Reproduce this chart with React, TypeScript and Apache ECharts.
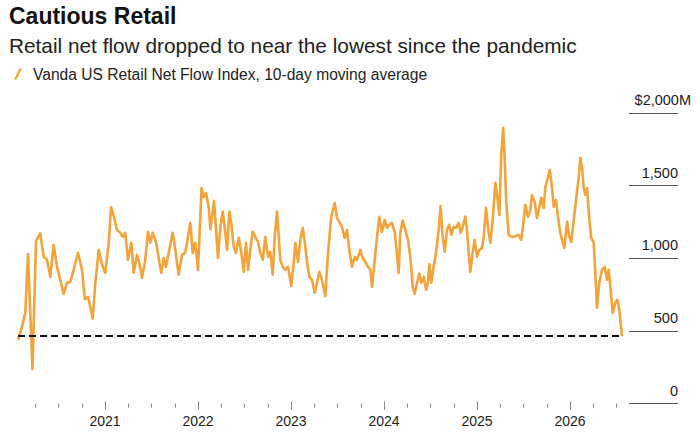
import React, { useEffect, useRef } from "react";
import * as echarts from "echarts";

const FONT = "'Liberation Sans', Arial, sans-serif";

const titleText = "Cautious Retail";
const subtitleText = "Retail net flow dropped to near the lowest since the pandemic";
const seriesName = "Vanda US Retail Net Flow Index, 10-day moving average";

// decimal years
const dates = [
  2020.065, 2020.108, 2020.143, 2020.172, 2020.22, 2020.258, 2020.304, 2020.341, 2020.376, 2020.412,
  2020.448, 2020.484, 2020.519, 2020.556, 2020.591, 2020.627, 2020.663, 2020.71, 2020.753, 2020.782,
  2020.817, 2020.842, 2020.868, 2020.896, 2020.932, 2020.968, 2021.003, 2021.04, 2021.065, 2021.094,
  2021.129, 2021.165, 2021.19, 2021.218, 2021.247, 2021.283, 2021.309, 2021.344, 2021.369, 2021.398,
  2021.433, 2021.462, 2021.487, 2021.513, 2021.548, 2021.577, 2021.605, 2021.631, 2021.656, 2021.685,
  2021.728, 2021.756, 2021.792, 2021.828, 2021.863, 2021.892, 2021.917, 2021.943, 2021.971, 2022.0,
  2022.038, 2022.061, 2022.086, 2022.115, 2022.134, 2022.172, 2022.194, 2022.215, 2022.24, 2022.266,
  2022.294, 2022.312, 2022.337, 2022.358, 2022.384, 2022.409, 2022.438, 2022.466, 2022.491, 2022.516,
  2022.538, 2022.562, 2022.588, 2022.616, 2022.645, 2022.67, 2022.696, 2022.724, 2022.753, 2022.777,
  2022.803, 2022.825, 2022.849, 2022.868, 2022.885, 2022.911, 2022.939, 2022.968, 2023.003, 2023.029,
  2023.046, 2023.075, 2023.1, 2023.126, 2023.147, 2023.172, 2023.197, 2023.226, 2023.255, 2023.28,
  2023.304, 2023.333, 2023.369, 2023.398, 2023.433, 2023.47, 2023.495, 2023.519, 2023.548, 2023.577,
  2023.602, 2023.627, 2023.656, 2023.685, 2023.71, 2023.745, 2023.771, 2023.799, 2023.828, 2023.853,
  2023.871, 2023.9, 2023.925, 2023.949, 2023.978, 2024.008, 2024.032, 2024.057, 2024.086, 2024.115,
  2024.14, 2024.158, 2024.175, 2024.201, 2024.229, 2024.258, 2024.283, 2024.309, 2024.33, 2024.355,
  2024.38, 2024.401, 2024.427, 2024.452, 2024.473, 2024.487, 2024.509, 2024.534, 2024.559, 2024.588,
  2024.608, 2024.631, 2024.653, 2024.677, 2024.702, 2024.724, 2024.749, 2024.774, 2024.803, 2024.825,
  2024.846, 2024.874, 2024.892, 2024.911, 2024.928, 2024.954, 2024.975, 2025.0, 2025.025, 2025.054,
  2025.072, 2025.097, 2025.118, 2025.143, 2025.169, 2025.197, 2025.218, 2025.24, 2025.261, 2025.282,
  2025.298, 2025.315, 2025.341, 2025.369, 2025.395, 2025.419, 2025.448, 2025.476, 2025.502, 2025.519,
  2025.548, 2025.573, 2025.591, 2025.62, 2025.645, 2025.67, 2025.691, 2025.717, 2025.735, 2025.763,
  2025.782, 2025.806, 2025.825, 2025.849, 2025.871, 2025.896, 2025.914, 2025.939, 2025.968, 2025.993,
  2026.014, 2026.04, 2026.065, 2026.094, 2026.111, 2026.129, 2026.147, 2026.165, 2026.183, 2026.208,
  2026.229, 2026.255, 2026.272, 2026.29, 2026.315, 2026.344, 2026.373, 2026.398, 2026.416, 2026.434,
  2026.459, 2026.487, 2026.509, 2026.53, 2026.559,
];

// $M
const netFlow = [
  440, 530, 625, 1030, 237, 1120, 1172, 1010, 990, 873,
  1093, 942, 852, 755, 832, 838, 921, 1038, 921, 720,
  735, 667, 585, 832, 1058, 955, 900, 1107, 1352, 1290,
  1196, 1175, 1148, 1175, 990, 1107, 900, 1024, 969, 866,
  990, 1182, 1107, 1175, 1113, 1003, 900, 1003, 942, 1038,
  1175, 1058, 887, 1024, 1038, 1148, 1244, 1038, 1107, 921,
  1484, 1423, 1450, 1354, 1200, 1395, 1196, 1003, 1216, 1322,
  1175, 1058, 1322, 1244, 1079, 1038, 1141, 1038, 907, 1107,
  921, 1058, 1182, 1148, 1113, 1038, 990, 1148, 1010, 1045,
  887, 1148, 1322, 1148, 990, 942, 921, 942, 810, 969,
  1107, 976, 1127, 1210, 1113, 976, 873, 852, 763, 832,
  907, 852, 740, 1038, 1288, 1381, 1278, 1251, 1216, 1141,
  1196, 1058, 942, 1010, 990, 1058, 1003, 976, 942, 921,
  804, 990, 1148, 1285, 1182, 1265, 1210, 1230, 1244, 1182,
  1024, 900, 1175, 1260, 1196, 1127, 1010, 804, 756, 832,
  895, 832, 873, 783, 832, 960, 832, 942, 1038, 1196,
  1360, 1148, 1045, 1196, 1230, 1162, 1216, 1210, 1244, 1175,
  1216, 1288, 1196, 1038, 907, 1045, 1127, 1010, 1058, 1072,
  1148, 1347, 1216, 1107, 1265, 1519, 1423, 1299, 1725, 1897,
  1677, 1381, 1160, 1150, 1148, 1155, 1162, 1127, 1265, 1368,
  1285, 1333, 1436, 1388, 1278, 1354, 1416, 1347, 1491, 1560,
  1608, 1491, 1354, 1402, 1285, 1175, 1127, 1072, 1251, 1148,
  1113, 1265, 1402, 1560, 1691, 1622, 1491, 1436, 1484, 1265,
  1141, 1107, 900, 660, 832, 921, 942, 852, 921, 804,
  625, 694, 715, 646, 465,
];

const referenceLevel = 465;

const yearLabels = ["2021", "2022", "2023", "2024", "2025", "2026"];
const firstYear = 2021;
const yTickLabels = ["0", "500", "1,000", "1,500", "$2,000"];
const yUnit = "M";
const yMax = 2000;
const yStep = 500;

export default function App() {
  const ref = useRef<HTMLDivElement>(null);

  useEffect(() => {
    document.body.style.margin = "0";
    if (!ref.current) return;
    const chart = echarts.init(ref.current, undefined, { renderer: "svg" });

    const lineData = dates.map((d, i) => [d, netFlow[i]]);
    const refData = [
      [dates[0], referenceLevel],
      [dates[dates.length - 1], referenceLevel],
    ];

    const gridTop = 113;
    const gridBottom = 30.3;

    chart.setOption({
      animation: false,
      backgroundColor: "#ffffff",
      textStyle: { fontFamily: FONT },
      title: {
        text: titleText,
        subtext: subtitleText,
        left: 9,
        top: 4,
        itemGap: 5,
        padding: 0,
        textStyle: {
          fontFamily: FONT,
          fontSize: 23,
          fontWeight: "bold",
          color: "#111111",
          lineHeight: 24,
        },
        subtextStyle: {
          fontFamily: FONT,
          fontSize: 20.8,
          color: "#222222",
          lineHeight: 24,
        },
      },
      legend: {
        data: [seriesName],
        left: 14,
        top: 66,
        padding: 0,
        itemWidth: 8,
        itemHeight: 11,
        icon: "path://M0,11 L2.6,11 L8,0 L5.4,0 Z",
        textStyle: {
          fontFamily: FONT,
          fontSize: 15.6,
          color: "#222222",
          lineHeight: 16,
          padding: [0, 0, 0, 6],
        },
      },
      grid: [
        // main plot: 2020.0 .. 2026.75
        { left: 12, right: 56.25, top: gridTop, bottom: gridBottom },
        // y labels + short gridlines
        { left: 629, right: 18, top: gridTop, bottom: gridBottom },
        // major year ticks 2021 .. 2026
        { left: 105, right: 126, top: gridTop, bottom: gridBottom },
        // quarterly ticks 2020.25 .. 2026.5
        { left: 35.25, right: 79.5, top: gridTop, bottom: gridBottom },
      ],
      xAxis: [
        {
          type: "value",
          gridIndex: 0,
          min: 2020,
          max: 2026.75,
          show: false,
        },
        {
          type: "value",
          gridIndex: 1,
          min: 0,
          max: 1,
          show: false,
        },
        {
          type: "value",
          gridIndex: 2,
          min: firstYear,
          max: firstYear + yearLabels.length - 1,
          interval: 1,
          offset: -2,
          axisLine: { show: false },
          axisTick: { show: true, length: 8, lineStyle: { color: "#777777", width: 1 } },
          axisLabel: {
            show: true,
            fontFamily: FONT,
            fontSize: 14,
            color: "#222222",
            margin: 12,
            formatter: (v: number) => yearLabels[Math.round(v - firstYear)] ?? "",
          },
          splitLine: { show: false },
        },
        {
          type: "value",
          gridIndex: 3,
          min: 2020.25,
          max: 2026.5,
          interval: 0.25,
          axisLine: { show: false },
          axisTick: { show: true, length: 4, lineStyle: { color: "#8a8a8a", width: 1 } },
          axisLabel: { show: false },
          splitLine: { show: false },
        },
      ],
      yAxis: [
        { type: "value", gridIndex: 0, min: 0, max: yMax, show: false },
        {
          type: "value",
          gridIndex: 1,
          min: 0,
          max: yMax,
          interval: yStep,
          position: "right",
          axisLine: { show: false },
          axisTick: { show: false },
          splitLine: { show: true, lineStyle: { color: "#555555", width: 1 } },
          axisLabel: {
            show: true,
            inside: true,
            margin: -13,
            verticalAlign: "bottom",
            padding: [0, 0, 6, 0],
            fontFamily: FONT,
            fontSize: 14.5,
            lineHeight: 14,
            color: "#222222",
            formatter: (v: number) => {
              const idx = Math.round(v / yStep);
              const lab = yTickLabels[idx] ?? "";
              if (v === yMax) return "{n|" + lab + "}{m|" + yUnit + "}";
              return "{p|" + lab + "}";
            },
            rich: {
              n: { fontFamily: FONT, fontSize: 14.5, color: "#222222" },
              m: { fontFamily: FONT, fontSize: 14.5, color: "#222222" },
              p: { fontFamily: FONT, fontSize: 14.5, color: "#222222", padding: [0, 13, 0, 0] },
            },
          },
        },
        { type: "value", gridIndex: 2, min: 0, max: yMax, show: false },
        { type: "value", gridIndex: 3, min: 0, max: yMax, show: false },
      ],
      series: [
        {
          name: seriesName,
          type: "line",
          xAxisIndex: 0,
          yAxisIndex: 0,
          data: lineData,
          showSymbol: false,
          symbol: "none",
          smooth: false,
          color: "#F2A33A",
          lineStyle: { color: "#F2A33A", width: 2.6, join: "round" },
          z: 2,
        },
        {
          name: "reference",
          type: "line",
          xAxisIndex: 0,
          yAxisIndex: 0,
          data: refData,
          showSymbol: false,
          symbol: "none",
          lineStyle: { color: "#111111", width: 2, type: [7, 4] },
          z: 3,
          silent: true,
        },
      ],
    });

    return () => {
      chart.dispose();
    };
  }, []);

  return (
    <div
      ref={ref}
      style={{ position: "absolute", left: 0, top: 0, width: 696, height: 434, background: "#fff" }}
    />
  );
}
